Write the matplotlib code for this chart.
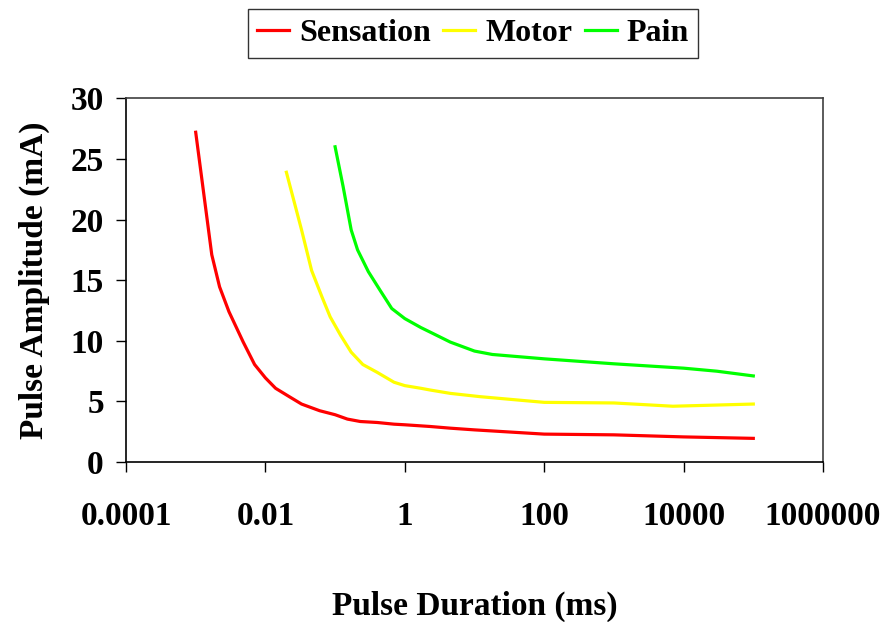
import matplotlib
matplotlib.use("Agg")
import matplotlib.pyplot as plt

plt.rcParams['font.family'] = ['Liberation Serif', 'DejaVu Serif']
plt.rcParams['font.weight'] = 'bold'

# Sensation threshold
sens_dur = [0.001, 0.0017, 0.0022, 0.003, 0.0048, 0.007, 0.01, 0.014, 0.022, 0.033,
            0.06, 0.1, 0.15, 0.23, 0.4, 0.7, 1.0, 2.3, 4.5, 10, 100, 1000, 10000, 100000]
sens_amp = [27.2, 17.1, 14.45, 12.4, 9.9, 8.04, 6.94, 6.08, 5.39, 4.78,
            4.23, 3.9, 3.54, 3.34, 3.26, 3.12, 3.07, 2.93, 2.79, 2.65, 2.3, 2.24, 2.07, 1.95]

# Motor threshold
motor_dur = [0.02, 0.033, 0.046, 0.065, 0.085, 0.12, 0.17, 0.25, 0.4, 0.7,
             1.0, 1.7, 2.3, 4.5, 12, 100, 1000, 7000, 100000]
motor_amp = [23.9, 19.15, 15.8, 13.6, 11.97, 10.45, 9.06, 8.04, 7.4, 6.58,
             6.3, 6.08, 5.94, 5.66, 5.39, 4.92, 4.87, 4.6, 4.78]

# Pain threshold
pain_dur = [0.1, 0.13, 0.17, 0.21, 0.3, 0.44, 0.65, 1.0, 1.7, 2.3, 4.5, 10, 18,
            100, 1000, 10000, 30000, 100000]
pain_amp = [26.0, 22.75, 19.15, 17.5, 15.7, 14.18, 12.66, 11.83, 11.09, 10.72, 9.89,
            9.15, 8.87, 8.51, 8.1, 7.74, 7.49, 7.1]

series_names = ["Sensation", "Motor", "Pain"]
x_ticks = [0.0001, 0.01, 1, 100, 10000, 1000000]
x_tick_labels = ["0.0001", "0.01", "1", "100", "10000", "1000000"]
y_ticks = [0, 5, 10, 15, 20, 25, 30]

fig = plt.figure(figsize=(8.8, 6.22), dpi=100)
ax = fig.add_axes([126/880, 1-462/622, 697/880, 363.7/622])

lw = 2.3
ax.plot(sens_dur, sens_amp, color='#FF0000', lw=lw, label=series_names[0])
ax.plot(motor_dur, motor_amp, color='#FFFF00', lw=lw, label=series_names[1])
ax.plot(pain_dur, pain_amp, color='#00FF00', lw=lw, label=series_names[2])

ax.set_xscale('log')
ax.set_xlim(0.0001, 1000000)
ax.set_ylim(0, 30)
ax.set_xticks(x_ticks)
ax.set_xticklabels(x_tick_labels)
ax.minorticks_off()
ax.set_yticks(y_ticks)

ax.tick_params(axis='x', direction='out', length=7, width=1, pad=21, labelsize=24)
ax.tick_params(axis='y', direction='out', length=7, width=1, pad=9, labelsize=24)
for lab in ax.get_xticklabels() + ax.get_yticklabels():
    lab.set_fontweight('bold')

for s in ['left', 'bottom']:
    ax.spines[s].set_color('black')
    ax.spines[s].set_linewidth(1.2)
for s in ['top', 'right']:
    ax.spines[s].set_color('#404040')
    ax.spines[s].set_linewidth(1.2)

ax.set_xlabel("Pulse Duration (ms)", fontsize=24, fontweight='bold')
ax.set_ylabel("Pulse Amplitude (mA)", fontsize=24, fontweight='bold')
ax.xaxis.set_label_coords(0.5, -0.355)
ax.yaxis.set_label_coords(-0.109, 0.5)

leg = fig.legend(loc='center', bbox_to_anchor=(473/880, 1-33.5/622), ncol=3,
                 fontsize=23, frameon=True, fancybox=False, edgecolor='black',
                 handlelength=1.0, handletextpad=0.3, columnspacing=0.4,
                 borderpad=0.3, borderaxespad=0)
leg.get_frame().set_linewidth(1.0)
for t in leg.get_texts():
    t.set_fontweight('bold')

fig.savefig("out.png", dpi=100)
